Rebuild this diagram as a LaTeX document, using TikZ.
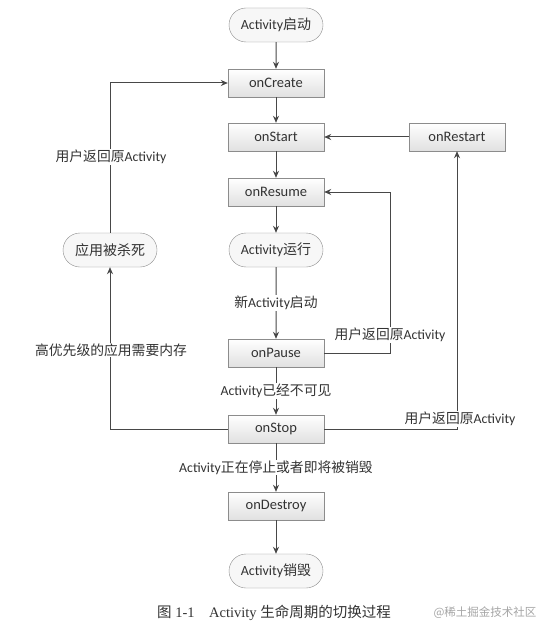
\documentclass[tikz,border=0pt]{standalone}
\usepackage{fontspec}
\setmainfont{Carlito}
\newfontfamily\cjk{Noto Sans CJK SC}
\newfontfamily\capfont{Liberation Serif}
\newcommand\zhs[1]{{\cjk #1}}
\usetikzlibrary{arrows.meta,shapes.misc}
\begin{document}
\begin{tikzpicture}[x=1pt,y=-1pt,
  box/.style={draw=black!45, top color=white, bottom color=black!12, minimum width=96pt, minimum height=28pt, inner sep=2pt, font=\fontsize{14.5}{16}\selectfont, text=black!80},
  term/.style={draw=black!45, rounded rectangle, fill=black!3, minimum width=98pt, minimum height=34pt, inner sep=2pt, font=\fontsize{14}{16}\selectfont, text=black!80},
  lab/.style={font=\fontsize{13.8}{16}\selectfont, text=black!80, fill=white, inner sep=1pt},
  arr/.style={draw=black!72, line width=1pt, -{Stealth[length=7pt,width=6pt]}},
  ln/.style={draw=black!72, line width=1pt}]
\useasboundingbox[fill=white] (0,0) rectangle (554,639);
% main column
\node[term] (start)   at (276,25)  {Activity\zhs{启动}};
\node[box]  (create)  at (276,83)  {onCreate};
\node[box]  (startb)  at (276,137) {onStart};
\node[box]  (resume)  at (276,192) {onResume};
\node[term] (run)     at (276,250) {Activity\zhs{运行}};
\node[box]  (pause)   at (276,353) {onPause};
\node[box]  (stop)    at (276,429) {onStop};
\node[box]  (destroy) at (276,506) {onDestroy};
\node[term] (dead)    at (276,571) {Activity\zhs{销毁}};
% side nodes
\node[box]  (restart) at (457,137) {onRestart};
\node[term] (killed)  at (110,250) {\zhs{应用被杀死}};
% main arrows
\draw[arr] (start) -- (create);
\draw[arr] (create) -- (startb);
\draw[arr] (startb) -- (resume);
\draw[arr] (resume) -- (run);
\draw[arr] (run) -- node[lab] (l1) {\zhs{新}Activity\zhs{启动}} (pause);
\draw[arr] (pause) -- node[lab] (l2) {Activity\zhs{已经不可见}} (stop);
\draw[arr] (stop) -- node[lab] (l3) {Activity\zhs{正在停止或者即将被销毁}} (destroy);
\draw[arr] (destroy) -- (dead);
% restart
\draw[arr] (restart) -- (startb);
% pause -> resume loop
\coordinate (p1) at (390,353);
\coordinate (p2) at (390,192);
\draw[arr] (pause.east) -- (p1) -- (p2) -- (resume.east);
% stop -> restart loop
\coordinate (q1) at (457,429);
\draw[arr] (stop.east) -- (q1) -- (restart.south);
% left loop
\coordinate (k1) at (110,429);
\coordinate (k2) at (110,83);
\draw[arr] (stop.west) -- (k1) -- (killed.south);
\draw[arr] (killed.north) -- (k2) -- (create.west);
% loop labels
\node[lab] (l4) at (390,335) {\zhs{用户返回原}Activity};
\node[lab] (l5) at (460,419) {\zhs{用户返回原}Activity};
\node[lab] (l6) at (111,157) {\zhs{用户返回原}Activity};
\node[lab] (l7) at (111,350) {\zhs{高优先级的应用需要内存}};
% caption
\node[font=\capfont\fontsize{14.5}{16}\selectfont, text=black!80] (cap) at (274,613) {\zhs{图} 1-1\quad Activity \zhs{生命周期的切换过程}};
\node[font=\cjk\fontsize{11.5}{13}\selectfont, text=black!35] (wm) at (485,613) {@稀土掘金技术社区};
\end{tikzpicture}
\end{document}
